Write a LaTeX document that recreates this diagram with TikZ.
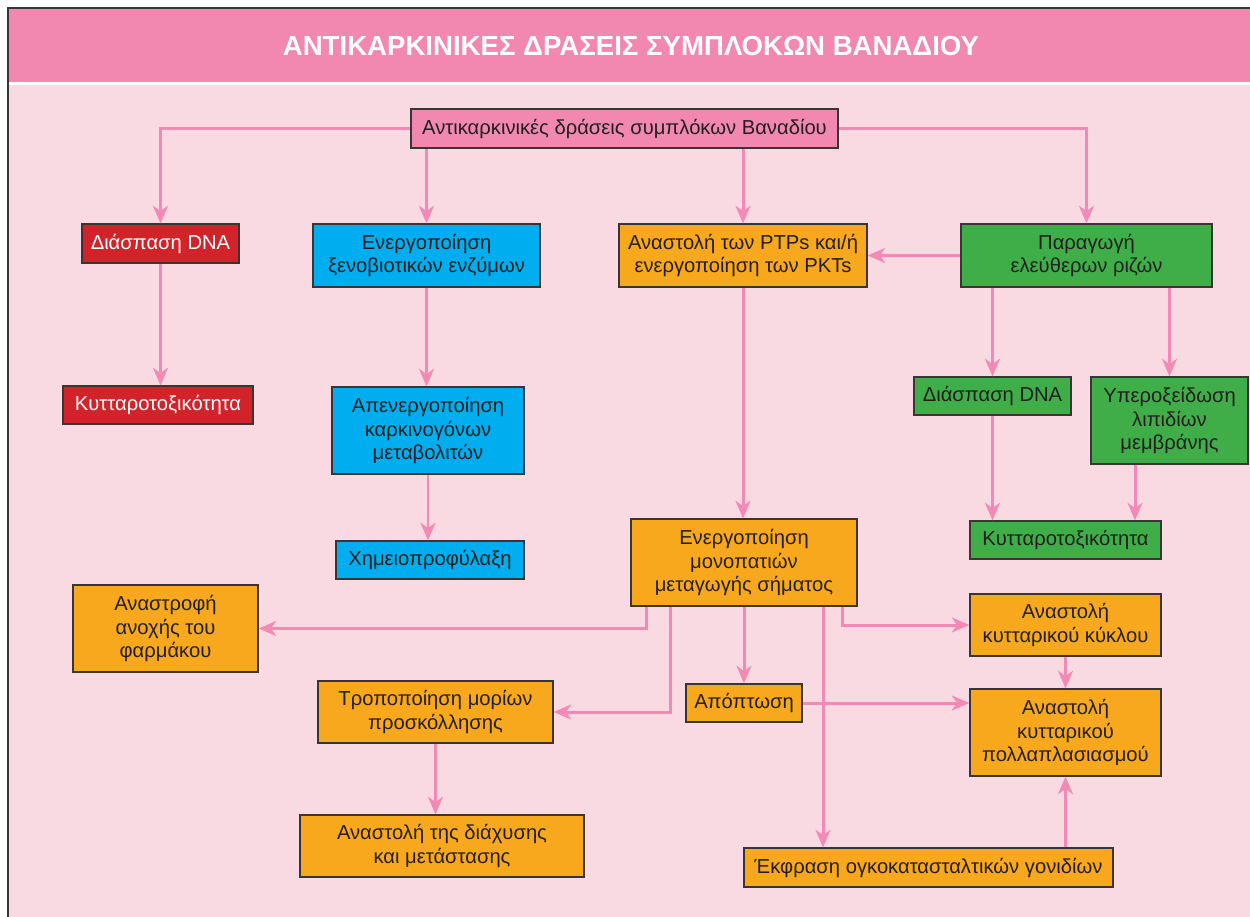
\documentclass[tikz,border=0pt]{standalone}
\usepackage{fontspec}
\setmainfont{Liberation Sans}
\usetikzlibrary{arrows.meta}
\definecolor{bgpink}{HTML}{F9D9E2}
\definecolor{headpink}{HTML}{F288AF}
\definecolor{linkpink}{HTML}{F28AB5}
\definecolor{boxred}{HTML}{D2232A}
\definecolor{boxblue}{HTML}{00AEEF}
\definecolor{boxorange}{HTML}{F8A81D}
\definecolor{boxgreen}{HTML}{3FAE49}
\definecolor{edge}{HTML}{3A3535}
\definecolor{ink}{HTML}{231F20}
\begin{document}
\begin{tikzpicture}[x=0.2mm,y=-0.2mm,
  box/.style={draw=edge, line width=0.7pt, align=center, inner sep=0pt,
    text=ink, font=\fontsize{11.5}{13.3}\selectfont},
  wh/.style 2 args={minimum width=#1*0.2mm, minimum height=#2*0.2mm},
  rootbox/.style={box, fill=headpink},
  redbox/.style={box, fill=boxred, text=white},
  bluebox/.style={box, fill=boxblue},
  orangebox/.style={box, fill=boxorange},
  greenbox/.style={box, fill=boxgreen},
  link/.style={draw=linkpink, line width=1.7pt,
    -{Stealth[length=10pt,width=8.5pt,inset=3pt]}}
]
\useasboundingbox (0,0) rectangle (1250,916);
\begin{scope}
\clip (0,0) rectangle (1250,916);
% frame, header band and background
\fill[headpink] (8,8) rectangle (1260,82);
\fill[white] (8,82) rectangle (1260,85);
\fill[bgpink] (8,85) rectangle (1260,930);
\draw[edge, line width=0.9pt] (8,930) -- (8,8) -- (1260,8);
\end{scope}

\node[text=white, font=\bfseries\fontsize{15.7}{18}\selectfont] (title) at (631,46)
  {ΑΝΤΙΚΑΡΚΙΝΙΚΕΣ ΔΡΑΣΕΙΣ ΣΥΜΠΛΟΚΩΝ ΒΑΝΑΔΙΟΥ};

% boxes
\node[rootbox, wh={427}{39}] (root) at (624.5,128.5) {Αντικαρκινικές δράσεις συμπλόκων Βαναδίου};
\node[redbox, wh={157}{39}] (red1) at (160.5,243.5) {Διάσπαση DNA};
\node[redbox, wh={190}{38}] (red2) at (158,405) {Κυτταροτοξικότητα};
\node[bluebox, wh={227}{63}] (blue1) at (426.5,255.5) {Ενεργοποίηση\\ξενοβιοτικών ενζύμων};
\node[bluebox, wh={192}{87}] (blue2) at (428,430.5) {Απενεργοποίηση\\καρκινογόνων\\μεταβολιτών};
\node[bluebox, wh={188}{38}] (blue3) at (430,560) {Χημειοπροφύλαξη};
\node[orangebox, wh={248}{63}] (o1) at (743,255.5) {Αναστολή των PTPs και/ή\\ενεργοποίηση των PKTs};
\node[greenbox, wh={251}{63}] (g1) at (1086.5,255.5) {Παραγωγή\\ελεύθερων ριζών};
\node[greenbox, wh={157}{38}] (g2) at (992.5,396) {Διάσπαση DNA};
\node[greenbox, wh={157}{87}] (g3) at (1169.5,420.5) {Υπεροξείδωση\\λιπιδίων\\μεμβράνης};
\node[greenbox, wh={191}{38}] (g4) at (1065.5,540) {Κυτταροτοξικότητα};
\node[orangebox, wh={226}{87}] (o2) at (744,562.5) {Ενεργοποίηση\\μονοπατιών\\μεταγωγής σήματος};
\node[orangebox, wh={185}{87}] (o3) at (165.5,628.5) {Αναστροφή\\ανοχής του\\φαρμάκου};
\node[orangebox, wh={235}{62}] (o4) at (435.5,712) {Τροποποίηση μορίων\\προσκόλλησης};
\node[orangebox, wh={116}{38}] (o5) at (744,703) {Απόπτωση};
\node[orangebox, wh={191}{62}] (o6) at (1065.5,625) {Αναστολή\\κυτταρικού κύκλου};
\node[orangebox, wh={191}{87}] (o7) at (1065.5,732.5) {Αναστολή\\κυτταρικού\\πολλαπλασιασμού};
\node[orangebox, wh={284}{62}] (o8) at (442,846) {Αναστολή της διάχυσης\\και μετάστασης};
\node[orangebox, wh={369}{39}] (o9) at (928.5,867.5) {Έκφραση ογκοκατασταλτικών γονιδίων};

% tap points on box edges
\coordinate (o2a) at ([xshift=-19.6mm]o2.south);
\coordinate (o2b) at ([xshift=-14.8mm]o2.south);
\coordinate (o2c) at ([xshift=15.8mm]o2.south);
\coordinate (o2d) at ([xshift=19.6mm]o2.south);
\coordinate (g3a) at ([xshift=-6.9mm]g3.south);

% connectors
\draw[link] (root.west) -| (red1.north);
\draw[link] (root.south -| blue1.north) -- (blue1.north);
\draw[link] (root.south -| o1.north) -- (o1.north);
\draw[link] (root.east) -| (g1.north);
\draw[link] (red1.south) -- (red1.south |- red2.north);
\draw[link] (blue1.south) -- (blue1.south |- blue2.north);
\draw[link] (blue2.south) -- (blue2.south |- blue3.north);
\draw[link] (g1.west) -- (o1.east);
\draw[link] (g1.south -| g2.north) -- (g2.north);
\draw[link] (g1.south -| g3.north) -- (g3.north);
\draw[link] (g2.south) -- (g2.south |- g4.north);
\draw[link] (g3a) -- (g3a |- g4.north);
\draw[link] (o1.south) -- (o1.south |- o2.north);
\draw[link] (o2a) |- (o3.east);
\draw[link] (o2b) |- (o4.east);
\draw[link] (o2.south) -- (o2.south |- o5.north);
\draw[link] (o2c) -- (o2c |- o9.north);
\draw[link] (o2d) |- (o6.west);
\draw[link] (o5.east) -- (o5.east -| o7.west);
\draw[link] (o6.south) -- (o7.north);
\draw[link] (o9.north -| o7.south) -- (o7.south);
\draw[link] (o4.south) -- (o4.south |- o8.north);
\end{tikzpicture}
\end{document}
